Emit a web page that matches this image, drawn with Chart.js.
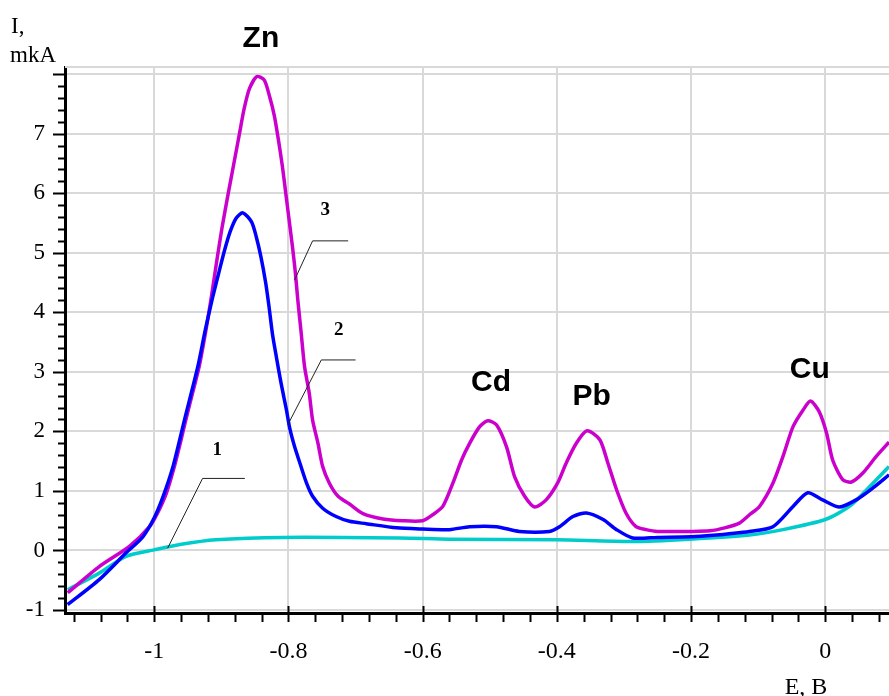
<!DOCTYPE html>
<html>
<head>
<meta charset="utf-8">
<script src="https://cdn.jsdelivr.net/npm/chart.js@4/dist/chart.umd.min.js"></script>
<style>
  body { margin: 0; background: #fff; }
  #wrap { width: 889px; height: 696px; position: relative; }
</style>
</head>
<body>
<div id="wrap"><canvas id="chart"></canvas></div>
<script>
// curve 1 - background
const e1 = [-1.129, -1.082, -1.042, -1.000, -0.962, -0.908, -0.808, -0.634, -0.560, -0.400, -0.287, -0.202, -0.113, -0.063, 0.000, 0.036, 0.066, 0.095];
const i1 = [-0.66, -0.38, -0.10, 0.01, 0.10, 0.18, 0.22, 0.21, 0.19, 0.18, 0.15, 0.19, 0.26, 0.35, 0.52, 0.74, 1.07, 1.41];

// curve 2
const e2 = [-1.129, -1.082, -1.042, -1.017, -1.000, -0.987, -0.972, -0.955, -0.935, -0.924, -0.913, -0.903, -0.895, -0.887, -0.878, -0.868, -0.855, -0.848, -0.841, -0.834, -0.829, -0.824, -0.818, -0.811, -0.803, -0.798, -0.791, -0.783, -0.773, -0.764, -0.749, -0.729, -0.709, -0.684, -0.639, -0.600, -0.560, -0.530, -0.490, -0.456, -0.411, -0.396, -0.376, -0.356, -0.331, -0.311, -0.287, -0.250, -0.200, -0.172, -0.113, -0.078, -0.048, -0.026, -0.004, 0.021, 0.046, 0.071, 0.095];
const i2 = [-0.91, -0.49, -0.04, 0.23, 0.55, 0.90, 1.41, 2.19, 3.09, 3.70, 4.25, 4.70, 5.05, 5.35, 5.58, 5.67, 5.52, 5.27, 4.93, 4.50, 4.10, 3.65, 3.25, 2.81, 2.36, 2.05, 1.75, 1.47, 1.13, 0.91, 0.71, 0.57, 0.49, 0.45, 0.38, 0.36, 0.35, 0.40, 0.40, 0.32, 0.32, 0.40, 0.57, 0.63, 0.52, 0.35, 0.21, 0.22, 0.23, 0.25, 0.32, 0.40, 0.74, 0.97, 0.85, 0.73, 0.85, 1.05, 1.27];

// curve 3
const e3 = [-1.129, -1.082, -1.037, -1.007, -0.995, -0.982, -0.970, -0.960, -0.953, -0.943, -0.933, -0.923, -0.915, -0.907, -0.899, -0.890, -0.881, -0.873, -0.866, -0.858, -0.847, -0.836, -0.828, -0.821, -0.815, -0.809, -0.804, -0.799, -0.794, -0.790, -0.786, -0.781, -0.776, -0.769, -0.764, -0.756, -0.749, -0.739, -0.726, -0.709, -0.689, -0.659, -0.630, -0.600, -0.585, -0.570, -0.555, -0.542, -0.530, -0.515, -0.503, -0.490, -0.475, -0.463, -0.448, -0.433, -0.416, -0.399, -0.386, -0.371, -0.355, -0.336, -0.324, -0.311, -0.297, -0.282, -0.267, -0.250, -0.200, -0.172, -0.150, -0.128, -0.113, -0.098, -0.078, -0.063, -0.048, -0.033, -0.022, -0.009, 0.002, 0.011, 0.026, 0.039, 0.056, 0.076, 0.095];
const i3 = [-0.71, -0.27, 0.07, 0.40, 0.63, 0.96, 1.41, 1.86, 2.19, 2.64, 3.09, 3.70, 4.25, 4.85, 5.42, 5.98, 6.52, 7.00, 7.42, 7.76, 7.96, 7.90, 7.62, 7.30, 6.90, 6.45, 6.00, 5.55, 5.10, 4.70, 4.20, 3.65, 3.09, 2.64, 2.19, 1.80, 1.41, 1.13, 0.91, 0.78, 0.62, 0.53, 0.50, 0.50, 0.60, 0.74, 1.13, 1.52, 1.80, 2.08, 2.18, 2.11, 1.74, 1.24, 0.91, 0.73, 0.85, 1.13, 1.47, 1.80, 2.01, 1.86, 1.47, 1.02, 0.63, 0.40, 0.35, 0.32, 0.32, 0.33, 0.38, 0.46, 0.60, 0.74, 1.13, 1.58, 2.08, 2.36, 2.51, 2.33, 1.97, 1.52, 1.19, 1.15, 1.30, 1.58, 1.82];

const xTicks = [-1, -0.8, -0.6, -0.4, -0.2, 0];
const yTicks = [-1, 0, 1, 2, 3, 4, 5, 6, 7];

// peak names and where they sit (E, I)
const peakNames = ['Zn', 'Cd', 'Pb', 'Cu'];
const peakE = [-0.841, -0.498, -0.348, -0.023];
const peakI = [8.59, 2.81, 2.58, 3.03];

// curve numbers with leader lines
const curveNames = ['1', '2', '3'];
const nameE = [-0.906, -0.725, -0.745];
const nameI = [1.69, 3.70, 5.72];
const leadE = [[-0.980, -0.928, -0.865], [-0.801, -0.751, -0.700], [-0.791, -0.764, -0.711]];
const leadI = [[0.04, 1.21, 1.21], [2.11, 3.20, 3.20], [4.54, 5.20, 5.20]];

function toPoints(xs, ys) {
    return xs.map((x, k) => ({ x: x, y: ys[k] }));
}

const extras = {
    id: 'extras',
    afterDraw(chart) {
        const ctx = chart.ctx;
        const xs = chart.scales.x;
        const ys = chart.scales.y;
        const area = chart.chartArea;
        ctx.save();

        // top border
        ctx.strokeStyle = '#d9d9d9';
        ctx.lineWidth = 2;
        ctx.beginPath();
        ctx.moveTo(area.left, area.top);
        ctx.lineTo(area.right, area.top);
        ctx.stroke();

        // minor and major ticks
        ctx.strokeStyle = '#000';
        ctx.lineWidth = 2;
        for (let k = -28; k <= 2; k++) {
            const px = Math.round(xs.getPixelForValue(k * 0.04)) + 0.5;
            const major = k % 5 === 0;
            ctx.beginPath();
            ctx.moveTo(px, major ? area.bottom - 7 : area.bottom);
            ctx.lineTo(px, area.bottom + 9);
            ctx.stroke();
        }
        for (let k = -5; k <= 40; k++) {
            const py = Math.round(ys.getPixelForValue(k * 0.2)) + 0.5;
            if (py < area.top) continue;
            const major = k % 5 === 0;
            ctx.beginPath();
            ctx.moveTo(area.left - (major ? 12 : 7), py);
            ctx.lineTo(area.left, py);
            ctx.stroke();
        }

        // leader lines
        ctx.lineWidth = 1;
        ctx.strokeStyle = '#222';
        leadE.forEach((row, n) => {
            ctx.beginPath();
            row.forEach((e, j) => {
                const px = xs.getPixelForValue(e);
                const py = ys.getPixelForValue(leadI[n][j]);
                if (j === 0) ctx.moveTo(px, py); else ctx.lineTo(px, py);
            });
            ctx.stroke();
        });

        ctx.fillStyle = '#000';
        ctx.textAlign = 'center';
        ctx.textBaseline = 'middle';
        ctx.font = 'bold 19px "Liberation Serif"';
        curveNames.forEach((t, n) => {
            ctx.fillText(t, xs.getPixelForValue(nameE[n]), ys.getPixelForValue(nameI[n]));
        });

        ctx.font = 'bold 30px "Liberation Sans Narrow", "Liberation Sans"';
        peakNames.forEach((t, n) => {
            ctx.fillText(t, xs.getPixelForValue(peakE[n]), ys.getPixelForValue(peakI[n]));
        });

        // axis titles
        ctx.font = '23px "Liberation Serif"';
        ctx.textAlign = 'left';
        ctx.textBaseline = 'alphabetic';
        ctx.fillText('I,', 11, 33);
        ctx.fillText('mkA', 10, 62);
        ctx.textAlign = 'center';
        ctx.font = '24px "Liberation Serif"';
        ctx.fillText('E, B', 806, 694);
        ctx.restore();
    }
};

new Chart(document.getElementById('chart'), {
    type: 'scatter',
    data: {
        datasets: [
            { label: '2', data: toPoints(e2, i2), borderColor: '#0000ff', order: 1 },
            { label: '3', data: toPoints(e3, i3), borderColor: '#cc00cc', order: 2 },
            { label: '1', data: toPoints(e1, i1), borderColor: '#00cccc', order: 3 }
        ].map(d => Object.assign(d, {
            showLine: true,
            pointRadius: 0,
            borderWidth: 3.5,
            tension: 0.25,
            fill: false
        }))
    },
    options: {
        responsive: true,
        maintainAspectRatio: false,
        animation: false,
        layout: { padding: { top: 67, right: 0, left: 0, bottom: 0 } },
        plugins: { legend: { display: false }, tooltip: { enabled: false } },
        scales: {
            x: {
                type: 'linear',
                min: -1.133,
                max: 0.095,
                afterFit(scale) { scale.height = 83; },
                afterBuildTicks(scale) { scale.ticks = xTicks.map(v => ({ value: v })); },
                ticks: {
                    padding: 24,
                    color: '#000',
                    font: { family: 'Liberation Serif', size: 24 },
                    callback: v => String(Math.round(v * 10) / 10)
                },
                grid: { color: '#d9d9d9', lineWidth: 2, drawTicks: false },
                border: { color: '#000', width: 3 }
            },
            y: {
                type: 'linear',
                min: -1.05,
                max: 8.12,
                afterFit(scale) { scale.width = 65; },
                afterBuildTicks(scale) { scale.ticks = yTicks.concat([8]).map(v => ({ value: v })); },
                ticks: {
                    padding: 20,
                    color: '#000',
                    font: { family: 'Liberation Serif', size: 23 },
                    callback: v => (yTicks.includes(v) ? String(v) : '')
                },
                grid: { color: '#d9d9d9', lineWidth: 2, drawTicks: false },
                border: { color: '#000', width: 3 }
            }
        }
    },
    plugins: [extras]
});
</script>
</body>
</html>
